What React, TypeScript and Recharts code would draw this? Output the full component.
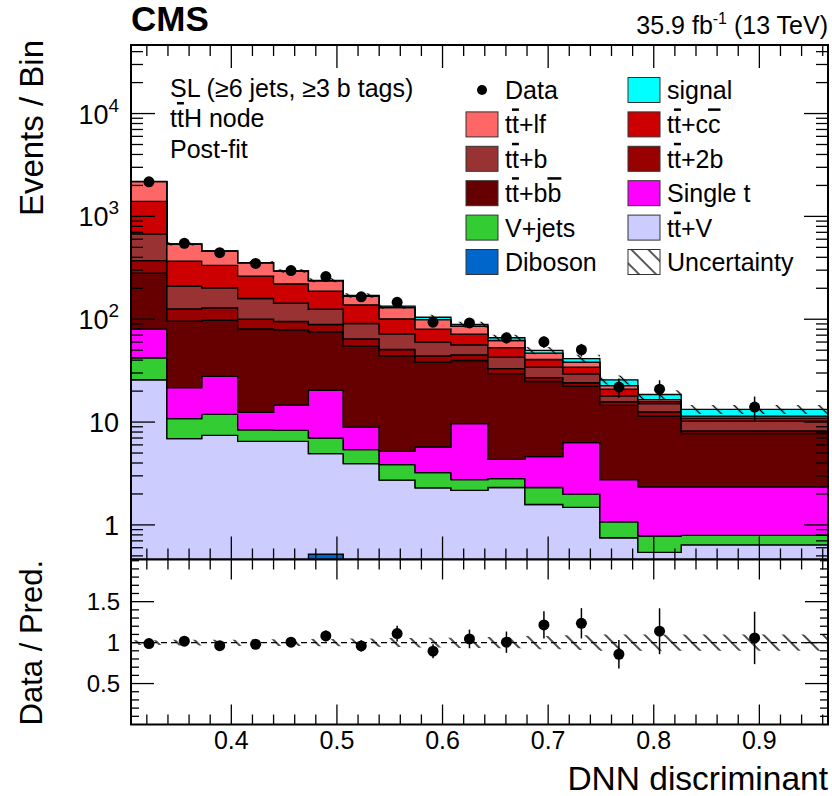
import React from 'react';
import { ComposedChart, Area, Scatter, ErrorBar, XAxis, YAxis, ReferenceArea, ReferenceLine } from 'recharts';

const FONT = '"Liberation Sans", Arial, Helvetica, sans-serif';

// DNN discriminant binning (last bin is wide)
const binEdges = [0.305, 0.339, 0.372, 0.406, 0.44, 0.473, 0.506, 0.54, 0.574, 0.608, 0.643, 0.678, 0.714, 0.749, 0.785, 0.826, 0.965];

// post-fit yields per bin, one array per process
const diboson = [0, 0, 0, 0, 0, 0.52, 0, 0, 0, 0, 0, 0, 0, 0, 0, 0];
const ttV = [25.8, 6.9, 7.43, 6.5, 6.5, 4.41, 3.95, 2.72, 2.29, 2.17, 2.31, 1.58, 1.48, 0.75, 0.54, 0.64];
const vJets = [16.4, 3.9, 4.47, 1.9, 1.8, 2.07, 1.45, 1.14, 0.94, 0.59, 0.51, 0.73, 0.51, 0.32, 0.24, 0.15];
const singleT = [37.8, 10.8, 15.9, 4.0, 6.3, 13.3, 3.54, 1.34, 2.49, 6.89, 1.52, 2.3, 4.32, 1.69, 1.56, 1.55];
const ttbb = [200, 74.2, 69.9, 68.3, 64.3, 55.2, 45.8, 38.9, 32.6, 30.05, 25.2, 20.2, 16.1, 11.8, 9.1, 5.4];
const tt2b = [91, 30.4, 31.3, 19.3, 16.1, 13.4, 9.8, 6.7, 5.8, 5.4, 3.5, 2.2, 1.7, 1.2, 1.1, 0.47];
const ttb = [304, 83, 73, 59, 48, 36.1, 26.3, 21.4, 15.7, 11.3, 9.8, 7.2, 5.4, 2.2, 2.6, 2.0];
const ttcc = [724, 157, 132, 103, 78, 62, 47.2, 28.8, 20.2, 15.1, 10, 6.4, 4.7, 2.9, 0.7, 0.7];
const ttlf = [781, 172, 125, 91, 72, 49.5, 29, 29, 19.3, 14, 9.3, 6.2, 4.1, 1.8, 0.7, 0.5];
const signal = [8, 2, 2, 2, 2, 2.5, 3, 4, 5.2, 3.4, 3.9, 2.9, 3.0, 3.1, 2.0, 1.9];

const dataYields = [2170, 547, 444, 349, 297, 260, 165, 146, 93.5, 92, 66, 60.3, 50.5, 21.9, 20.9, 14];
const dataErr = [47, 23, 21, 19, 17, 16, 13, 12, 9.7, 9.6, 8.1, 7.8, 7.1, 4.7, 4.6, 3.7];
const uncFrac = [0.03, 0.035, 0.035, 0.04, 0.04, 0.045, 0.05, 0.055, 0.06, 0.065, 0.07, 0.08, 0.09, 0.1, 0.1, 0.1];

const ratioVals = [0.988, 1.017, 0.963, 0.98, 1.005, 1.082, 0.96, 1.11, 0.895, 1.045, 1.005, 1.216, 1.236, 0.858, 1.139, 1.057];
const ratioErr = [0.02, 0.045, 0.05, 0.055, 0.058, 0.065, 0.07, 0.095, 0.085, 0.114, 0.13, 0.167, 0.185, 0.175, 0.28, 0.32];

const xMajor = [0.4, 0.5, 0.6, 0.7, 0.8, 0.9];
const mainYMajor = [1, 10, 100, 1000, 10000];
const mainYLabels = ['1', '10', '10|2', '10|3', '10|4'];
const ratioYMajor = [0.5, 1, 1.5];

// stack, bottom first
const stack = [
  { key: 'diboson', values: diboson, color: '#0066cc' },
  { key: 'ttV', values: ttV, color: '#ccccff' },
  { key: 'vJets', values: vJets, color: '#33cc33' },
  { key: 'singleT', values: singleT, color: '#ff00ff' },
  { key: 'ttbb', values: ttbb, color: '#660000' },
  { key: 'tt2b', values: tt2b, color: '#990000' },
  { key: 'ttb', values: ttb, color: '#993333' },
  { key: 'ttcc', values: ttcc, color: '#cc0000' },
  { key: 'ttlf', values: ttlf, color: '#ff6666' },
  { key: 'signal', values: signal, color: '#00ffff' },
];

// layout (page pixels)
const W = 832;
const PL = 131;
const PR = 828;
const MT = 45;
const MB = 559.5;
const RB = 724.5;
const X_MIN = 0.305;
const X_MAX = 0.965;
const Y_MIN = 0.461;
const Y_MAX = 46400;
const R_MIN = 0;
const R_MAX = 2.015;

const nBins = binEdges.length - 1;
const FLOOR = 0.2;

const histRows = binEdges.map((edge, i) => {
  const b = Math.min(i, nBins - 1);
  const row: any = { x: edge };
  let cum = 0;
  stack.forEach((s) => {
    const low = cum;
    cum += s.values[b];
    row[s.key] = [Math.max(low, FLOOR), Math.max(cum, FLOOR)];
  });
  row.unc = [cum * (1 - uncFrac[b]), cum * (1 + uncFrac[b])];
  row.band = [1 - uncFrac[b], 1 + uncFrac[b]];
  return row;
});

const centers = binEdges.slice(0, -1).map((e, i) => (e + binEdges[i + 1]) / 2);
const dataPoints = centers.map((x, i) => ({ x, y: dataYields[i], err: dataErr[i] }));
const ratioPoints = centers.map((x, i) => ({ x, y: ratioVals[i], err: ratioErr[i] }));

const xTicks: number[] = [];
for (let k = 16; k <= 48; k++) xTicks.push(Number((k * 0.02).toFixed(2)));
const mainYTicks: number[] = [];
[0.1, 1, 10, 100, 1000, 10000].forEach((d) => {
  for (let m = 1; m <= 9; m++) {
    const v = Number((m * d).toPrecision(3));
    if (v >= Y_MIN && v <= Y_MAX) mainYTicks.push(v);
  }
});
const ratioYTicks: number[] = [];
for (let k = 1; k <= 20; k++) ratioYTicks.push(Number((k / 10).toFixed(1)));

const isXMajor = (v: number) => xMajor.some((m) => Math.abs(m - v) < 1e-6);

const Over = ({ children }: { children: string }) => (
  <tspan style={{ textDecoration: 'overline' }}>{children}</tspan>
);

const MainXTick = (props: any) => {
  const { x, payload } = props;
  const len = isXMajor(payload.value) ? 23 : 11;
  return (
    <g>
      <line x1={x} x2={x} y1={MB} y2={MB - len} stroke="#000" strokeWidth={1.3} />
      <line x1={x} x2={x} y1={MT} y2={MT + len} stroke="#000" strokeWidth={1.3} />
    </g>
  );
};

const MainYTick = (props: any) => {
  const { y, payload } = props;
  const idx = mainYMajor.indexOf(payload.value);
  const len = idx >= 0 ? 24 : 12;
  let label = null;
  if (idx >= 0) {
    const [base, exp] = mainYLabels[idx].split('|');
    label = (
      <text x={119} y={y + 10} textAnchor="end" fontSize={27} fontFamily={FONT} fill="#000">
        {base}
        {exp && (
          <tspan dy={-12} fontSize={19}>
            {exp}
          </tspan>
        )}
      </text>
    );
  }
  return (
    <g>
      <line x1={PL} x2={PL + len} y1={y} y2={y} stroke="#000" strokeWidth={1.3} />
      <line x1={PR - len} x2={PR} y1={y} y2={y} stroke="#000" strokeWidth={1.3} />
      {label}
    </g>
  );
};

const RatioXTick = (props: any) => {
  const { x, payload } = props;
  const major = isXMajor(payload.value);
  const len = major ? 20 : 10;
  return (
    <g>
      <line x1={x} x2={x} y1={RB} y2={RB - len} stroke="#000" strokeWidth={1.3} />
      <line x1={x} x2={x} y1={MB} y2={MB + len} stroke="#000" strokeWidth={1.3} />
      {major && (
        <text x={x} y={749} textAnchor="middle" fontSize={25} fontFamily={FONT} fill="#000">
          {payload.value}
        </text>
      )}
    </g>
  );
};

const RatioYTick = (props: any) => {
  const { y, payload } = props;
  const major = ratioYMajor.some((m) => Math.abs(m - payload.value) < 1e-6);
  const len = major ? 23 : 8;
  return (
    <g>
      <line x1={PL} x2={PL + len} y1={y} y2={y} stroke="#000" strokeWidth={1.3} />
      <line x1={PR - len} x2={PR} y1={y} y2={y} stroke="#000" strokeWidth={1.3} />
      {major && (
        <text x={120} y={y + 8} textAnchor="end" fontSize={24} fontFamily={FONT} fill="#000">
          {payload.value}
        </text>
      )}
    </g>
  );
};

const Dot = (p: any) => <circle cx={p.cx} cy={p.cy} r={5.5} fill="#000" />;

const legendItems: { label: React.ReactNode; color?: string; kind?: string }[] = [
  { label: 'Data', kind: 'dot' },
  { label: 'signal', color: '#00ffff' },
  { label: <>t<Over>t</Over>+lf</>, color: '#ff6666' },
  { label: <>t<Over>t</Over>+c<Over>c</Over></>, color: '#cc0000' },
  { label: <>t<Over>t</Over>+b</>, color: '#993333' },
  { label: <>t<Over>t</Over>+2b</>, color: '#990000' },
  { label: <>t<Over>t</Over>+b<Over>b</Over></>, color: '#660000' },
  { label: 'Single t', color: '#ff00ff' },
  { label: 'V+jets', color: '#33cc33' },
  { label: <>t<Over>t</Over>+V</>, color: '#ccccff' },
  { label: 'Diboson', color: '#0066cc' },
  { label: 'Uncertainty', kind: 'hatch' },
];

const Overlay = () => (
  <svg width={W} height={796} style={{ position: 'absolute', left: 0, top: 0, pointerEvents: 'none' }} fontFamily={FONT}>
    <defs>
      <pattern id="hatchLegend" patternUnits="userSpaceOnUse" width={12} height={12} patternTransform="rotate(-45)">
        <line x1={6} y1={0} x2={6} y2={12} stroke="#000" strokeWidth={1.3} />
      </pattern>
    </defs>
    <text x={131} y={31} fontSize={35} fontWeight="bold">CMS</text>
    <text x={828} y={34} fontSize={25} textAnchor="end">
      35.9 fb<tspan dy={-10} fontSize={16}>-1</tspan>
      <tspan dy={10}> (13 TeV)</tspan>
    </text>
    <text transform="translate(43,40) rotate(-90)" textAnchor="end" fontSize={33}>Events / Bin</text>
    <text transform="translate(42,560) rotate(-90)" textAnchor="end" fontSize={31}>Data / Pred.</text>
    <text x={828} y={790} textAnchor="end" fontSize={33.5}>DNN discriminant</text>

    <text x={170} y={97} fontSize={25}>SL (≥6 jets, ≥3 b tags)</text>
    <text x={170} y={127} fontSize={25}>t<Over>t</Over>H node</text>
    <text x={170} y={158} fontSize={25}>Post-fit</text>

    {legendItems.map((item, i) => {
      const col = i % 2;
      const row = Math.floor(i / 2);
      const bx = col === 0 ? 466 : 628;
      const cy = 90 + row * 34.4;
      return (
        <g key={i}>
          {item.kind === 'dot' ? (
            <circle cx={bx + 16} cy={cy} r={5} fill="#000" />
          ) : (
            <rect
              x={bx}
              y={cy - 12.5}
              width={32}
              height={25}
              fill={item.kind === 'hatch' ? 'url(#hatchLegend)' : item.color}
              stroke="#333"
              strokeWidth={1}
            />
          )}
          <text x={bx + 39} y={cy + 9} fontSize={25}>{item.label}</text>
        </g>
      );
    })}
  </svg>
);

export default function App() {
  return (
    <div style={{ position: 'absolute', left: 0, top: 0, width: W, height: 796, background: '#fff', overflow: 'hidden', fontFamily: FONT }}>
      <div style={{ position: 'absolute', left: 0, top: 0 }}>
        <ComposedChart width={W} height={560} data={histRows} margin={{ top: MT, right: W - PR, bottom: 560 - MB - 1, left: PL - 1 }}>
          <defs>
            <pattern id="hatchMain" patternUnits="userSpaceOnUse" width={15} height={15} patternTransform="rotate(-45)">
              <line x1={7.5} y1={0} x2={7.5} y2={15} stroke="#000" strokeWidth={1.4} />
            </pattern>
          </defs>
          <XAxis dataKey="x" type="number" domain={[X_MIN, X_MAX]} allowDataOverflow ticks={xTicks} interval={0}
            height={1} axisLine={false} tickLine={false} tick={(p: any) => <MainXTick {...p} />} />
          <YAxis type="number" scale="log" domain={[Y_MIN, Y_MAX]} allowDataOverflow ticks={mainYTicks} interval={0}
            width={1} axisLine={false} tickLine={false} tick={(p: any) => <MainYTick {...p} />} />
          {stack.map((s) => (
            <Area key={s.key} dataKey={s.key} type="stepAfter" fill={s.color} fillOpacity={1} stroke="#000"
              strokeWidth={1.3} dot={false} activeDot={false} isAnimationActive={false} />
          ))}
          <Area dataKey="unc" type="stepAfter" fill="url(#hatchMain)" fillOpacity={1} stroke="none"
            dot={false} activeDot={false} isAnimationActive={false} />
          <Scatter data={dataPoints} dataKey="y" shape={Dot} isAnimationActive={false}>
            <ErrorBar dataKey="err" direction="y" width={0} stroke="#000" strokeWidth={1.5} />
          </Scatter>
          <ReferenceArea x1={X_MIN} x2={X_MAX} y1={Y_MIN} y2={Y_MAX} fill="none" stroke="#000" strokeWidth={2} ifOverflow="visible" />
        </ComposedChart>
      </div>
      <div style={{ position: 'absolute', left: 0, top: 0 }}>
        <ComposedChart width={W} height={796} data={histRows} margin={{ top: MB, right: W - PR, bottom: 796 - RB - 1, left: PL - 1 }}>
          <defs>
            <pattern id="hatchRatio" patternUnits="userSpaceOnUse" width={14} height={14} patternTransform="rotate(-45)">
              <line x1={7} y1={0} x2={7} y2={14} stroke="#000" strokeWidth={1.4} />
            </pattern>
          </defs>
          <XAxis dataKey="x" type="number" domain={[X_MIN, X_MAX]} allowDataOverflow ticks={xTicks} interval={0}
            height={1} axisLine={false} tickLine={false} tick={(p: any) => <RatioXTick {...p} />} />
          <YAxis type="number" domain={[R_MIN, R_MAX]} allowDataOverflow ticks={ratioYTicks} interval={0}
            width={1} axisLine={false} tickLine={false} tick={(p: any) => <RatioYTick {...p} />} />
          <Area dataKey="band" type="stepAfter" fill="url(#hatchRatio)" fillOpacity={1} stroke="none"
            dot={false} activeDot={false} isAnimationActive={false} />
          <ReferenceLine y={1} stroke="#000" strokeWidth={1.2} strokeDasharray="6 4" />
          <Scatter data={ratioPoints} dataKey="y" shape={Dot} isAnimationActive={false}>
            <ErrorBar dataKey="err" direction="y" width={0} stroke="#000" strokeWidth={1.5} />
          </Scatter>
          <ReferenceArea x1={X_MIN} x2={X_MAX} y1={R_MIN} y2={R_MAX} fill="none" stroke="#000" strokeWidth={2} ifOverflow="visible" />
        </ComposedChart>
      </div>
      <Overlay />
    </div>
  );
}
